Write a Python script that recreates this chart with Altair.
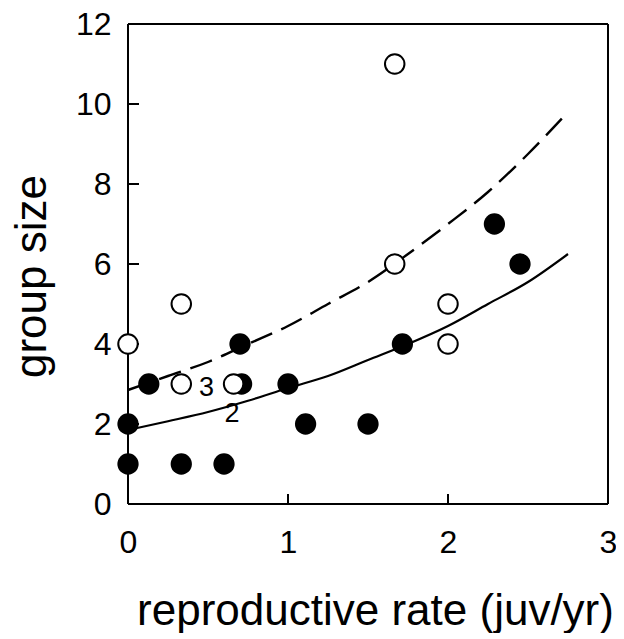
import altair as alt
import pandas as pd

# Filled circles
filled_x = [0, 0, 0.13, 0.333, 0.60, 0.70, 0.71, 1.0, 1.11, 1.50, 1.715, 2.29, 2.45]
filled_y = [1, 2, 3, 1, 1, 4, 3, 3, 2, 2, 4, 7, 6]

# Open circles
open_x = [0, 0.333, 0.333, 0.66, 1.667, 1.667, 2.0, 2.0]
open_y = [4, 3, 5, 3, 11, 6, 5, 4]

# Fitted curves
curve_x = [0, 0.25, 0.5, 0.75, 1.0, 1.25, 1.5, 1.75, 2.0, 2.25, 2.5, 2.75]
solid_y = [1.85, 2.07, 2.3, 2.58, 2.9, 3.2, 3.6, 4.0, 4.45, 5.0, 5.55, 6.25]
dashed_y = [2.85, 3.2, 3.55, 4.0, 4.45, 5.0, 5.55, 6.25, 7.0, 7.8, 8.75, 9.8]

# Count labels
label_text = ["3", "2"]
label_x = [0.49, 0.65]
label_y = [2.9, 2.25]

x_ticks = [0, 1, 2, 3]
y_ticks = [0, 2, 4, 6, 8, 10, 12]
x_inner_ticks = [1, 2]
y_inner_ticks = [2, 4, 6, 8, 10]

FONT = "Liberation Sans"

xs = alt.Scale(domain=[0, 3], nice=False, zero=False)
ys = alt.Scale(domain=[0, 12], nice=False, zero=False)

xaxis = alt.Axis(values=x_ticks, format="d", grid=False, domain=False, ticks=False, tickSize=0,
                 labelFlush=False, labelOverlap=False,
                 labelFont=FONT, labelFontSize=32, labelPadding=23, labelColor="black",
                 title="reproductive rate (juv/yr)", titleFont=FONT, titleFontSize=44,
                 titleFontWeight="normal", titleColor="black", titleX=247, titleY=120,
                 titleBaseline="alphabetic", titleAnchor="middle")
yaxis = alt.Axis(values=y_ticks, format="d", grid=False, domain=False, ticks=False, tickSize=0,
                 labelFlush=False, labelOverlap=False,
                 labelFont=FONT, labelFontSize=32, labelPadding=17, labelColor="black",
                 title="group size", titleFont=FONT, titleFontSize=44,
                 titleFontWeight="normal", titleColor="black", titleX=-83, titleY=252,
                 titleBaseline="alphabetic", titleAnchor="middle")

curves = pd.DataFrame({"x": curve_x, "solid": solid_y, "dashed": dashed_y})
filled = pd.DataFrame({"x": filled_x, "y": filled_y})
opened = pd.DataFrame({"x": open_x, "y": open_y})
labels = pd.DataFrame({"x": label_x, "y": label_y, "t": label_text})
frame_v = pd.DataFrame({"x": [0, 3]})
frame_h = pd.DataFrame({"y": [0, 12]})
xt = pd.DataFrame({"x": x_inner_ticks})
yt = pd.DataFrame({"y": y_inner_ticks})

base_axes = alt.Chart(frame_v).mark_rule(color="black", strokeWidth=2).encode(
    x=alt.X("x:Q", scale=xs, axis=xaxis),
    y=alt.datum(0, scale=ys, axis=yaxis),
    y2=alt.datum(12),
)
frame_top = alt.Chart(frame_h).mark_rule(color="black", strokeWidth=2).encode(
    y=alt.Y("y:Q", scale=ys),
    x=alt.datum(0, scale=xs),
    x2=alt.datum(3),
)
yticks = alt.Chart(yt).mark_rule(color="black", strokeWidth=2).encode(
    y=alt.Y("y:Q", scale=ys), x=alt.value(0), x2=alt.value(11)
)
xticks = alt.Chart(xt).mark_rule(color="black", strokeWidth=2).encode(
    x=alt.X("x:Q", scale=xs), y=alt.value(480), y2=alt.value(470)
)
solid = alt.Chart(curves).mark_line(color="black", strokeWidth=2.2, interpolate="monotone").encode(
    x=alt.X("x:Q", scale=xs), y=alt.Y("solid:Q", scale=ys)
)
dashed = alt.Chart(curves).mark_line(color="black", strokeWidth=2.4, strokeDash=[23, 10],
                                     interpolate="monotone").encode(
    x=alt.X("x:Q", scale=xs), y=alt.Y("dashed:Q", scale=ys)
)
fpts = alt.Chart(filled).mark_point(shape="circle", filled=True, color="black", size=452, opacity=1).encode(
    x=alt.X("x:Q", scale=xs), y=alt.Y("y:Q", scale=ys)
)
opts = alt.Chart(opened).mark_point(shape="circle", fill="white", stroke="black", strokeWidth=2,
                                    size=380, opacity=1, fillOpacity=1).encode(
    x=alt.X("x:Q", scale=xs), y=alt.Y("y:Q", scale=ys)
)
txt = alt.Chart(labels).mark_text(font=FONT, fontSize=27, color="black").encode(
    x=alt.X("x:Q", scale=xs), y=alt.Y("y:Q", scale=ys), text="t:N"
)

chart = alt.layer(base_axes, frame_top, yticks, xticks, solid, dashed, fpts, opts, txt).properties(
    width=480, height=480,
    autosize=alt.AutoSizeParams(type="none"),
    padding={"left": 120, "top": 16, "right": 8, "bottom": 129},
    background="white",
).configure_view(stroke=None)

chart.save("out.html", embed_options={"renderer": "svg", "actions": False})
